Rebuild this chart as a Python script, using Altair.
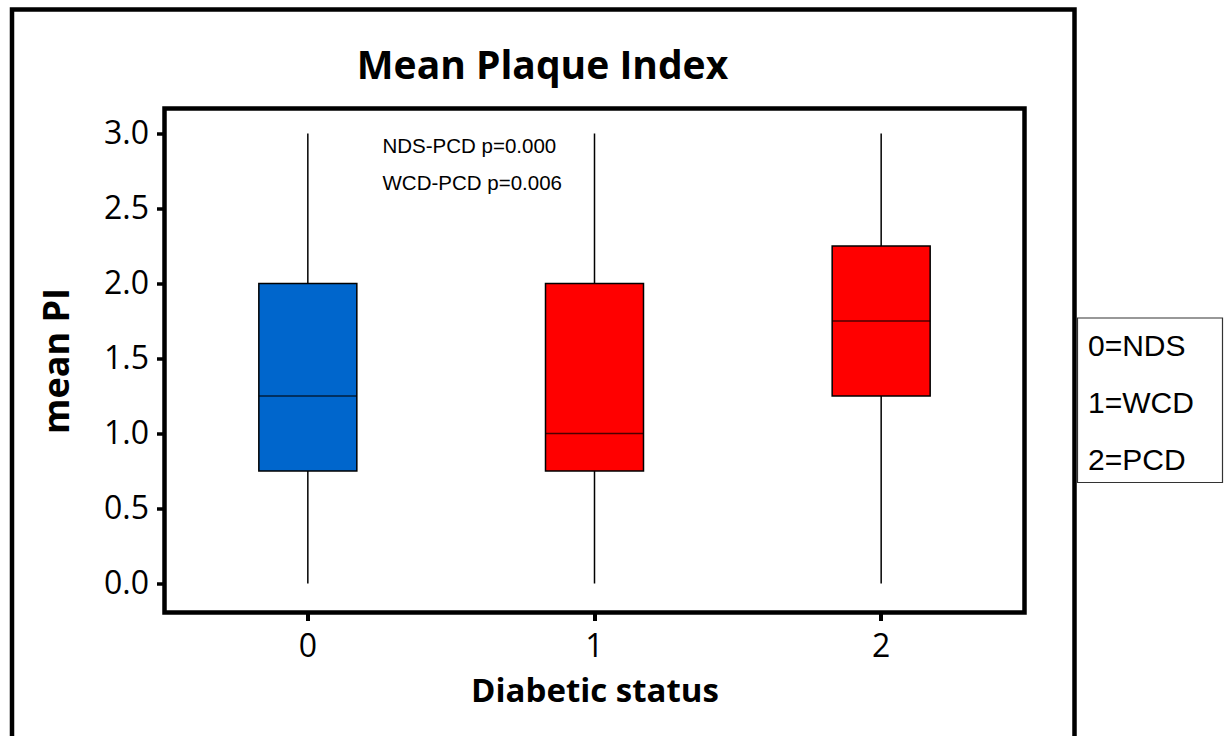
import altair as alt
import pandas as pd

# ---- data ----
status = ["0", "1", "2"]
whisker_low = [0.0, 0.0, 0.0]
q1 = [0.75, 0.75, 1.25]
median = [1.25, 1.0, 1.75]
q3 = [2.0, 2.0, 2.25]
whisker_high = [3.0, 3.0, 3.0]
box_colors = ["#0066CC", "#FF0000", "#FF0000"]

annot_text = ["NDS-PCD p=0.000", "WCD-PCD p=0.006"]
annot_y = [2.91, 2.665]

legend_labels = ["0=NDS", "1=WCD", "2=PCD"]
legend_y = [238.5, 295.5, 352.5]

y_ticks = [0.0, 0.5, 1.0, 1.5, 2.0, 2.5, 3.0]

df = pd.DataFrame({
    "status": status, "lo": whisker_low, "q1": q1, "med": median,
    "q3": q3, "hi": whisker_high, "color": box_colors,
})
ann = pd.DataFrame({"text": annot_text, "y": annot_y})
leg = pd.DataFrame({"text": legend_labels, "py": legend_y})

W, H = 860, 504
TICKF = "Open Sans"
BOLDF = "Open Sans"
ARIAL = "Liberation Sans"

xenc = alt.X(
    "status:N", title="Diabetic status", sort=status,
    scale=alt.Scale(paddingInner=0, paddingOuter=0),
    axis=alt.Axis(labelAngle=0, labelFont=TICKF, labelFontSize=32, labelColor="black",
                  tickColor="black", tickWidth=4, tickSize=8, labelPadding=11,
                  domain=False, titleFont=BOLDF, titleFontSize=33, titleFontWeight="bold",
                  titleColor="black", titlePadding=13),
)
yscale = alt.Scale(domain=[-0.1933, 3.1667], nice=False, zero=False)
yenc_axis = alt.Axis(values=y_ticks, format=".1f", labelFont=TICKF, labelFontSize=32,
                     labelColor="black", tickColor="black", tickWidth=3.5, tickSize=8,
                     labelPadding=8, domain=False, grid=False, titleFont=BOLDF,
                     titleFontSize=36, titleFontWeight="bold", titleColor="black",
                     titlePadding=27)

base = alt.Chart(df)

whiskers = base.mark_rule(color="black", strokeWidth=1.5).encode(
    x=xenc,
    y=alt.Y("lo:Q", scale=yscale, axis=yenc_axis, title="mean PI"),
    y2="hi:Q",
)
boxes = base.mark_bar(size=98, stroke="black", strokeWidth=1.5).encode(
    x=alt.X("status:N", sort=status),
    y=alt.Y("q1:Q"),
    y2="q3:Q",
    color=alt.Color("color:N", scale=None),
)
medians = base.mark_tick(color="black", thickness=1.5, size=98).encode(
    x=alt.X("status:N", sort=status),
    y=alt.Y("med:Q"),
)

annots = alt.Chart(ann).mark_text(font=ARIAL, fontSize=20.5, align="left",
                                  baseline="middle", color="black").encode(
    x=alt.value(218),
    y=alt.Y("y:Q"),
    text="text:N",
)

outer_frame = alt.Chart(pd.DataFrame({"a": [0]})).mark_rect(
    fill=None, stroke="black", strokeWidth=4.5, clip=False
).encode(x=alt.value(-152.5), x2=alt.value(910), y=alt.value(-99), y2=alt.value(700))

legend_box = alt.Chart(pd.DataFrame({"a": [0]})).mark_rect(
    fill="white", stroke="#333333", strokeWidth=1.2, clip=False
).encode(x=alt.value(913), x2=alt.value(1058), y=alt.value(209.5), y2=alt.value(374))

legend_text = alt.Chart(leg).mark_text(font=ARIAL, fontSize=30, align="left",
                                       baseline="middle", color="black").encode(
    x=alt.value(923.5),
    y=alt.Y("py:Q", scale=None),
    text="text:N",
)

chart = alt.layer(
    outer_frame, whiskers, boxes, medians, annots, legend_box, legend_text
).properties(
    width=W, height=H,
    title=alt.TitleParams("Mean Plaque Index", font=BOLDF, fontSize=39, fontWeight="bold",
                          color="black", anchor="middle", dx=-52, baseline="alphabetic",
                          offset=-111),
    autosize=alt.AutoSizeParams(type="none"),
    padding={"left": 164.5, "top": 108.5, "right": 202.5, "bottom": 123.5},
    background="white",
).configure_view(
    stroke="black", strokeWidth=4.5
)

chart.save("out.html", embed_options={"renderer": "svg", "actions": False})
